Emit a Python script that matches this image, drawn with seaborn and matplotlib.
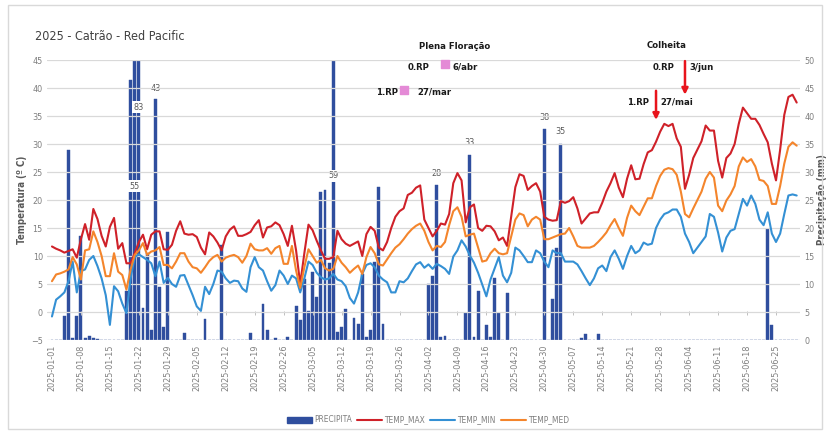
import numpy as np
import pandas as pd
import matplotlib
matplotlib.use('Agg')
import matplotlib.pyplot as plt
from matplotlib.patches import Patch, Rectangle
from matplotlib.lines import Line2D
from matplotlib import font_manager
import seaborn as sns

# daily series, 2025-01-01 .. 2025-06-30
dates = pd.date_range('2025-01-01', '2025-06-30', freq='D')

temp_max = [11.7, 11.3, 11.0, 10.6, 10.9, 11.2, 9.7, 13.0, 15.7, 12.9,
            18.4, 16.6, 13.6, 11.7, 15.2, 16.8, 11.3, 12.3, 8.7, 8.7,
            10.5, 12.5, 13.8, 11.2, 13.8, 14.4, 14.4, 11.2, 11.1, 12.0,
            14.5, 16.2, 14.0, 13.8, 13.9, 13.4, 11.5, 10.3, 14.2, 13.5,
            12.4, 11.0, 13.5, 14.7, 15.3, 13.6, 13.6, 13.9, 14.3, 15.5,
            16.4, 13.3, 15.1, 15.3, 16.0, 15.5, 13.9, 11.8, 15.4, 11.0,
            5.0, 10.5, 15.6, 14.6, 12.7, 11.0, 9.5, 9.5, 9.8, 14.5,
            13.0, 12.2, 11.8, 12.2, 12.6, 10.0, 13.9, 15.2, 14.5, 11.5,
            11.0, 12.5, 15.0, 17.0, 18.0, 18.5, 20.9, 21.3, 22.2, 22.6,
            16.5, 15.0, 13.5, 14.5, 15.8, 15.6, 17.5, 23.0, 24.8, 23.5,
            16.0, 18.7, 19.2, 15.0, 14.5, 15.4, 15.3, 14.4, 12.8, 13.3,
            11.8, 17.0, 22.3, 24.6, 24.3, 21.8, 22.5, 23.0, 21.5, 17.0,
            16.5, 16.3, 16.4, 19.8, 19.5, 19.8, 20.5, 18.5, 15.8, 16.7,
            17.6, 17.8, 17.8, 19.5, 21.5, 23.0, 24.8, 22.2, 20.5, 23.8,
            26.2, 23.7, 23.8, 26.4, 28.5, 28.9, 30.4, 32.2, 33.6, 33.2,
            33.6, 31.0, 29.5, 22.0, 24.5, 27.5, 29.0, 30.5, 33.3, 32.4,
            32.4, 27.0, 24.0, 27.5, 28.3, 30.0, 33.6, 36.5, 35.5, 34.5,
            34.5, 33.4, 31.8, 30.3, 26.5, 23.5, 29.0, 35.2, 38.4, 38.8,
            37.4]

temp_min = [-0.8, 2.2, 2.8, 3.5, 5.5, 9.0, 3.5, 7.3, 7.6, 9.3,
            10.0, 8.2, 6.0, 3.0, -2.3, 4.6, 3.7, 1.5, -0.2, 6.0,
            9.8, 10.3, 9.8, 9.3, 8.7, 6.4, 9.0, 5.2, 6.1, 5.0,
            4.5, 6.5, 6.6, 4.8, 3.0, 1.0, 0.2, 4.5, 3.2, 5.0,
            7.4, 7.2, 6.0, 5.2, 5.6, 5.5, 4.2, 3.6, 8.0, 9.8,
            8.0, 7.4, 5.5, 3.8, 4.8, 7.4, 6.5, 5.0, 6.5, 6.0,
            3.5, 6.0, 9.0, 8.4, 7.0, 6.2, 5.8, 6.0, 6.8, 5.8,
            5.5, 4.6, 2.5, 1.5, 3.5, 6.8, 8.4, 8.7, 8.0, 6.5,
            5.8, 5.3, 3.5, 3.5, 5.5, 5.3, 6.0, 7.3, 8.5, 8.9,
            7.9, 8.5, 7.7, 8.6, 8.2, 7.7, 6.8, 9.9, 11.0, 12.8,
            11.7, 10.1, 8.8, 7.0, 4.9, 2.8, 5.8, 7.8, 9.8, 6.5,
            5.3, 7.0, 11.5, 11.0, 10.0, 8.9, 8.9, 11.0, 10.5, 9.0,
            8.0, 11.0, 10.5, 10.5, 9.0, 9.0, 9.0, 8.5, 7.3, 6.0,
            4.8, 6.0, 7.8, 8.3, 7.3, 9.8, 11.0, 9.5, 7.7, 10.0,
            11.8, 10.5, 11.0, 12.4, 12.0, 12.2, 15.0, 16.5, 17.5, 17.8,
            18.3, 18.3, 17.0, 14.0, 12.5, 10.5, 11.5, 12.5, 13.5, 17.5,
            17.0, 14.2, 10.8, 13.3, 14.5, 14.8, 17.5, 20.2, 19.0, 20.8,
            19.3, 16.5, 15.5, 17.8, 14.0, 12.5, 14.0, 17.5, 20.8, 21.0,
            20.8]

temp_med = [5.5, 6.7, 6.9, 7.2, 7.6, 9.8, 8.5, 5.8, 11.0, 11.2,
            14.4, 12.5, 10.0, 6.4, 6.4, 10.5, 7.2, 6.6, 4.0, 7.6,
            10.2, 11.0, 12.3, 10.2, 10.8, 11.0, 11.6, 8.4, 8.4, 7.8,
            9.0, 10.5, 10.5, 9.0, 8.0, 7.8, 7.0, 8.0, 9.1, 9.8,
            10.2, 9.0, 9.7, 10.0, 10.2, 9.8, 8.8, 10.0, 12.2, 11.2,
            11.0, 11.0, 11.4, 10.4, 11.4, 11.8, 8.6, 8.6, 11.8, 7.4,
            4.3, 8.0, 11.2, 10.0, 8.8, 9.3, 7.8, 7.4, 7.7, 10.0,
            8.8, 8.0, 7.0, 7.7, 8.3, 6.8, 9.8, 11.6, 10.5, 8.5,
            8.3, 9.4, 10.5, 11.5, 12.1, 13.0, 14.0, 14.8, 15.4, 15.8,
            14.5, 12.5, 11.0, 11.8, 11.6, 12.5, 15.5, 18.0, 18.7, 17.0,
            13.5, 13.8, 14.0, 11.5, 9.0, 9.2, 10.5, 11.3, 10.5, 10.3,
            10.5, 13.5, 16.5, 17.6, 17.3, 15.3, 16.5, 17.0, 16.5, 13.0,
            13.0, 13.3, 13.6, 13.9, 14.0, 15.0, 13.5, 11.8, 11.5, 11.5,
            11.5, 11.8, 12.5, 13.3, 14.2, 15.5, 16.6, 15.0, 13.6, 16.8,
            19.0, 18.0, 17.3, 18.8, 20.3, 20.3, 22.5, 24.3, 25.4, 25.7,
            25.5, 24.5, 21.5, 17.5, 16.9, 18.5, 20.0, 21.5, 23.8, 25.0,
            24.0, 19.0, 18.0, 19.9, 21.0, 22.5, 26.0, 27.6, 26.8, 27.3,
            26.0, 23.6, 23.4, 22.5, 19.3, 19.3, 22.5, 26.5, 29.5, 30.3,
            29.7]

# precipitation (mm), only days with rain
rain_dates = ['2025-01-04', '2025-01-05', '2025-01-06', '2025-01-07', '2025-01-08',
              '2025-01-09', '2025-01-10', '2025-01-11', '2025-01-12',
              '2025-01-19', '2025-01-20', '2025-01-21', '2025-01-22', '2025-01-23',
              '2025-01-24', '2025-01-25', '2025-01-26', '2025-01-27', '2025-01-28',
              '2025-01-29', '2025-02-02', '2025-02-07', '2025-02-11', '2025-02-18',
              '2025-02-21', '2025-02-22', '2025-02-24', '2025-02-27', '2025-03-01',
              '2025-03-02', '2025-03-03', '2025-03-04', '2025-03-05', '2025-03-06',
              '2025-03-07', '2025-03-08', '2025-03-09', '2025-03-10', '2025-03-11',
              '2025-03-12', '2025-03-13', '2025-03-15', '2025-03-16', '2025-03-17',
              '2025-03-18', '2025-03-19', '2025-03-20', '2025-03-21', '2025-03-22',
              '2025-04-02', '2025-04-03', '2025-04-04', '2025-04-05', '2025-04-06',
              '2025-04-11', '2025-04-12', '2025-04-13', '2025-04-14', '2025-04-16',
              '2025-04-17', '2025-04-18', '2025-04-19', '2025-04-21',
              '2025-04-30', '2025-05-02', '2025-05-03', '2025-05-04',
              '2025-05-09', '2025-05-10', '2025-05-13', '2025-06-23', '2025-06-24']
rain_mm = [4.2, 34.0, 0.3, 4.2, 18.5,
           0.3, 0.8, 0.4, 0.2,
           8.7, 46.5, 55.0, 83.0, 5.7,
           15.5, 1.8, 43.0, 9.4, 2.4,
           19.3, 1.3, 3.8, 17.0, 1.3,
           6.4, 1.7, 0.3, 0.5, 6.1,
           3.5, 10.9, 5.2, 12.1, 7.6,
           26.4, 26.8, 13.7, 59.0, 1.4,
           2.3, 5.5, 4.0, 2.9, 11.8,
           0.6, 1.7, 13.9, 27.3, 2.9,
           10.0, 11.5, 27.6, 0.5, 0.8,
           4.8, 33.0, 0.5, 8.8, 2.6,
           0.5, 11.0, 4.9, 8.4,
           37.6, 7.4, 16.5, 35.0,
           0.4, 1.0, 1.0, 19.8, 2.6]

# bar labels: date, text, y (mm)
lab_dates = ['2025-01-21', '2025-01-22', '2025-01-26', '2025-03-10', '2025-04-04',
             '2025-04-12', '2025-04-30', '2025-05-04']
lab_text = ['55', '83', '43', '59', '28', '33', '38', '35']
lab_y = [27.5, 41.6, 45.0, 29.3, 29.8, 35.2, 39.8, 37.2]

week_ticks = pd.date_range('2025-01-01', '2025-06-25', freq='7D')

precip = pd.Series(0.0, index=dates)
precip[pd.to_datetime(rain_dates)] = rain_mm

df = pd.DataFrame({'date': dates, 'TEMP_MAX': temp_max,
                   'TEMP_MIN': temp_min, 'TEMP_MED': temp_med})

sns.set_theme(style='white')

# look for a narrow / condensed sans face, like the original chart font
narrow, stretch = 'Liberation Sans', 'normal'
for f in font_manager.fontManager.ttflist:
    tag = f.name + ' ' + str(f.stretch)
    if ('Narrow' in tag or 'ondensed' in tag) and f.style == 'normal':
        narrow, stretch = f.name, f.stretch
        break
plt.rcParams['font.family'] = [narrow, 'DejaVu Sans']
plt.rcParams['font.stretch'] = stretch

c_bar = '#2F4E9E'
c_max = '#CF2129'
c_min = '#3490D4'
c_med = '#F4852C'
c_txt = '#7F7F7F'

fig = plt.figure(figsize=(8.28, 4.34), dpi=100)
ax = fig.add_axes([47 / 828, 94 / 434, 753 / 828, 280 / 434])   # precipitation (right)
ax2 = ax.twinx()                                                # temperature (left)

ax.bar(precip.index, precip.values, width=0.7, color=c_bar, edgecolor=c_bar,
       linewidth=0.3, zorder=1)
ax.set_ylim(0, 50)
ax.set_yticks(range(0, 55, 5))
ax.yaxis.tick_right()
ax.yaxis.set_label_position('right')
ax.set_ylabel('Precipitação (mm)', fontsize=7, fontweight='bold', color='#595959',
              rotation=90, labelpad=2)

for d, t, y in zip(lab_dates, lab_text, lab_y):
    ax.text(pd.Timestamp(d), y, t, ha='center', va='center', fontsize=6.5, color='#595959',
            bbox=dict(boxstyle='square,pad=0.15', fc='white', ec='none'), zorder=5)

sns.lineplot(data=df, x='date', y='TEMP_MAX', ax=ax2, color=c_max, linewidth=1.5)
sns.lineplot(data=df, x='date', y='TEMP_MIN', ax=ax2, color=c_min, linewidth=1.5)
sns.lineplot(data=df, x='date', y='TEMP_MED', ax=ax2, color=c_med, linewidth=1.5)
ax2.set_ylim(-5, 45)
ax2.set_yticks(range(-5, 50, 5))
ax2.yaxis.tick_left()
ax2.yaxis.set_label_position('left')
ax2.set_ylabel('Temperatura (º C)', fontsize=7, fontweight='bold', color='#595959', labelpad=3)
ax2.set_xlabel('')
ax2.grid(axis='y', color='#D9D9D9', linewidth=0.9)
ax2.set_axisbelow(True)

# horizontal axis crossing at 0 ºC with small tick marks
ax2.vlines(week_ticks, -0.6, 0.2, color='#BFBFBF', linewidth=0.7, zorder=0)

ax.set_xlim(dates[0] - pd.Timedelta(days=1.2), dates[-1] + pd.Timedelta(days=0.8))
ax.set_xticks(week_ticks)
ax.set_xticklabels([d.strftime('%Y-%m-%d') for d in week_ticks], rotation=90)
for a in (ax, ax2):
    a.tick_params(length=0, labelsize=6.5, labelcolor=c_txt, pad=3)
    for s in a.spines.values():
        s.set_visible(False)

# phenology notes
bold = dict(fontsize=6.8, fontweight='bold', color='#1A1A1A', clip_on=False)
ax2.text(pd.Timestamp('2025-04-08 07:00'), 47.4, 'Plena Floração', ha='center', va='center', **bold)
ax2.text(pd.Timestamp('2025-04-02 07:00'), 43.7, '0.RP', ha='right', va='center', **bold)
ax2.text(pd.Timestamp('2025-04-07 22:00'), 43.7, '6/abr', ha='left', va='center', **bold)
ax2.text(pd.Timestamp('2025-03-25 14:00'), 39.2, '1.RP', ha='right', va='center', **bold)
ax2.text(pd.Timestamp('2025-03-30 05:00'), 39.2, '27/mar', ha='left', va='center', **bold)
ax2.scatter(pd.to_datetime(['2025-04-06', '2025-03-27']), [44.2, 39.6], marker='s', s=30,
            color='#E48AD6', zorder=6, clip_on=False)

ax2.text(pd.Timestamp('2025-05-29 14:00'), 47.6, 'Colheita', ha='center', va='center', **bold)
ax2.text(pd.Timestamp('2025-05-31 12:00'), 43.7, '0.RP', ha='right', va='center', **bold)
ax2.text(pd.Timestamp('2025-06-04 02:00'), 43.7, '3/jun', ha='left', va='center', **bold)
ax2.text(pd.Timestamp('2025-05-25 10:00'), 37.5, '1.RP', ha='right', va='center', **bold)
ax2.text(pd.Timestamp('2025-05-28 03:00'), 37.5, '27/mai', ha='left', va='center', **bold)
for d, y0, y1 in [('2025-06-03', 45.3, 38.3), ('2025-05-27', 40.0, 33.8)]:
    ax2.annotate('', xy=(pd.Timestamp(d), y1), xytext=(pd.Timestamp(d), y0),
                 arrowprops=dict(arrowstyle='-|>', color='#E8141C', lw=1.8, mutation_scale=9),
                 annotation_clip=False, zorder=7)

fig.text(35 / 828, 1 - 37 / 434, '2025 - Catrão - Red Pacific', fontsize=9,
         color='#404040', va='center', ha='left')

handles = [Patch(color=c_bar), Line2D([], [], color=c_max, lw=1.5),
           Line2D([], [], color=c_min, lw=1.5), Line2D([], [], color=c_med, lw=1.5)]
fig.legend(handles, ['PRECIPITA', 'TEMP_MAX', 'TEMP_MIN', 'TEMP_MED'], loc='center',
           bbox_to_anchor=(428 / 828, 1 - 420 / 434), ncol=4, frameon=False, fontsize=6,
           handlelength=3.0, handleheight=0.7, columnspacing=0.6, handletextpad=0.3,
           labelcolor=c_txt)

fig.patches.append(Rectangle((8 / 828, 5 / 434), 814 / 828, 424 / 434, transform=fig.transFigure,
                             fill=False, edgecolor='#D9D9D9', linewidth=1))

fig.savefig('out.png', dpi=100)
